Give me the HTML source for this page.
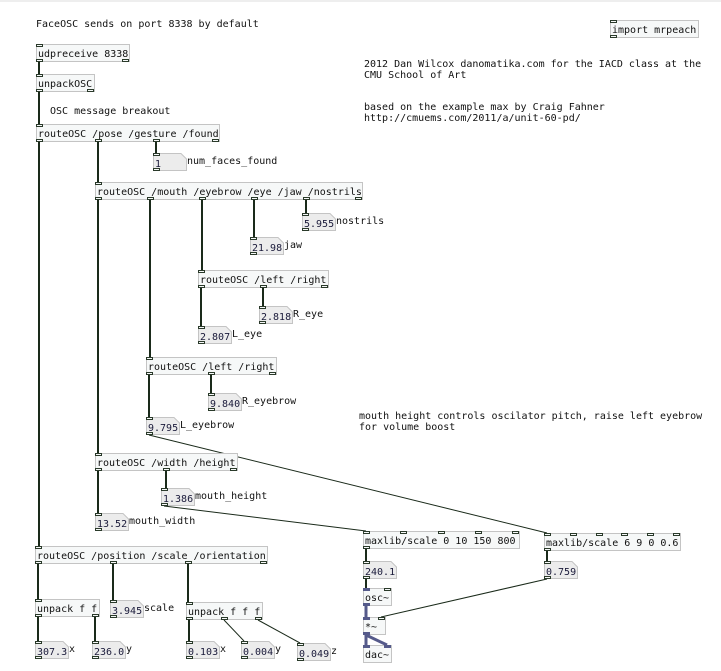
<!DOCTYPE html>
<html><head><meta charset="utf-8"><style>
html,body{margin:0;padding:0;background:#fff;width:721px;height:671px;overflow:hidden}
svg text{font-family:"DejaVu Sans Mono","Liberation Mono",monospace;font-size:10px;fill:#111}
</style></head><body>
<svg id="s" width="721" height="671" xmlns="http://www.w3.org/2000/svg">
<rect x="0" y="0" width="721" height="2" fill="#eeeeee"/>
<g id="w"></g><g id="b"></g>
<text x="36" y="27">FaceOSC sends on port 8338 by default</text>
<text x="50" y="114">OSC message breakout</text>
<text x="364" y="67">2012 Dan Wilcox danomatika.com for the IACD class at the</text>
<text x="364" y="78">CMU School of Art</text>
<text x="364" y="110">based on the example max by Craig Fahner</text>
<text x="364" y="121">http://cmuems.com/2011/a/unit-60-pd/</text>
<text x="359" y="419">mouth height controls oscilator pitch, raise left eyebrow</text>
<text x="359" y="430">for volume boost</text>
</svg>
<script>
var NS="http://www.w3.org/2000/svg";
function el(p,t,a,txt){var e=document.createElementNS(NS,t);for(var k in a)e.setAttribute(k,a[k]);if(txt!=null)e.textContent=txt;document.getElementById(p).appendChild(e);return e;}
var B={};
function obj(id,x,y,w,t,ni,no,sig){B[id]={x:x,y:y,w:w,h:17,ni:ni,no:no,sig:sig||[]};
 el("b","rect",{x:x+.5,y:y+.5,width:w,height:17,fill:"#f6f8f8",stroke:"#c4c4c4"});
 el("b","text",{x:x+2,y:y+13},t);}
function num(id,x,y,t,lab){var w=33;B[id]={x:x,y:y,w:w,h:17,ni:1,no:1,sig:[]};
 el("b","polygon",{points:(x+.5)+","+(y+.5)+" "+(x+w-5)+","+(y+.5)+" "+(x+w+.5)+","+(y+6)+" "+(x+w+.5)+","+(y+17.5)+" "+(x+.5)+","+(y+17.5),fill:"#ececec",stroke:"#c4c4c4"});
 el("b","text",{x:x+2,y:y+14,style:"fill:#1a1a3a"},t);
 if(lab)el("b","text",{x:x+w+1,y:y+11},lab);}
function px(b,i,n){return Math.round(n<2?b.x:b.x+i*(b.w-7)/(n-1));}
obj("udp",36,44,93,"udpreceive 8338",1,2);
obj("unp",36,74,58,"unpackOSC",1,2);
obj("rp",36,124,183,"routeOSC /pose /gesture /found",1,4);
num("n1",153,153,"1","num_faces_found");
obj("rm",95,182,267,"routeOSC /mouth /eyebrow /eye /jaw /nostrils",1,6);
num("nos",302,213,"5.955","nostrils");
num("jaw",250,237,"21.98","jaw");
obj("re",198,270,130,"routeOSC /left /right",1,3);
num("reye",259,306,"2.818","R_eye");
num("leye",198,326,"2.807","L_eye");
obj("rb",146,357,130,"routeOSC /left /right",1,3);
num("rbr",208,393,"9.840","R_eyebrow");
num("lbr",146,417,"9.795","L_eyebrow");
obj("rw",95,453,142,"routeOSC /width /height",1,3);
num("mh",161,488,"1.386","mouth_height");
num("mw",95,513,"13.52","mouth_width");
obj("rpos",35,546,232,"routeOSC /position /scale /orientation",1,4);
obj("u2",35,599,64,"unpack f f",1,2);
num("sc",110,600,"3.945","scale");
obj("u3",186,602,76,"unpack f f f",1,3);
num("px",35,641,"307.3","x");
num("py",92,641,"236.0","y");
num("ox",186,641,"0.103","x");
num("oy",241,641,"0.004","y");
num("oz",297,643,"0.049","z");
obj("m1",363,531,156,"maxlib/scale 0 10 150 800",5,1);
num("f1",363,561,"240.1","");
obj("osc",363,588,28,"osc~",2,1,["i0","o0"]);
obj("mul",363,617,22,"*~",2,1,["i0","o0"]);
obj("dac",363,645,28,"dac~",2,0,["i0","i1"]);
obj("m2",544,533,136,"maxlib/scale 6 9 0 0.6",6,1);
num("f2",544,561,"0.759","");
obj("imp",610,20,88,"import mrpeach",1,1);
for(var k in B){var b=B[k];
 for(var i=0;i<b.ni;i++){var s=b.sig.indexOf("i"+i)>=0;el("b","rect",{x:px(b,i,b.ni)+.5,y:b.y+.5,width:6,height:2,fill:s?"#555a8a":"#f6f8f8",stroke:s?"#555a8a":"#2a3a2a"});}
 for(var i=0;i<b.no;i++){var s=b.sig.indexOf("o"+i)>=0;el("b","rect",{x:px(b,i,b.no)+.5,y:b.y+b.h-2+.5,width:6,height:2,fill:s?"#555a8a":"#f6f8f8",stroke:s?"#555a8a":"#2a3a2a"});}
}
function c(a,o,b,i,sig){var A=B[a],Bb=B[b];var x1=px(A,o,A.no)+3,y1=A.y+A.h+1,x2=px(Bb,i,Bb.ni)+3,y2=Bb.y;
 var v=Math.abs(x1-x2)<=2; if(v&&!sig)x2=x1;
 el("w","line",{x1:x1,y1:y1,x2:x2,y2:y2,stroke:sig?"#555a8a":"#1a2a1a","stroke-width":sig?3:(v?2:1)});}
c("udp",0,"unp",0);c("unp",0,"rp",0);c("rp",0,"rpos",0);c("rp",1,"rm",0);c("rp",2,"n1",0);
c("rm",0,"rw",0);c("rm",1,"rb",0);c("rm",2,"re",0);c("rm",3,"jaw",0);c("rm",4,"nos",0);
c("re",0,"leye",0);c("re",1,"reye",0);c("rb",0,"lbr",0);c("rb",1,"rbr",0);
c("lbr",0,"m2",0);c("rw",0,"mw",0);c("rw",1,"mh",0);c("mh",0,"m1",0);
c("m1",0,"f1",0);c("f1",0,"osc",0);c("osc",0,"mul",0,1);c("f2",0,"mul",1);c("mul",0,"dac",0,1);c("mul",0,"dac",1,1);
c("m2",0,"f2",0);
c("rpos",0,"u2",0);c("rpos",1,"sc",0);c("rpos",2,"u3",0);
c("u2",0,"px",0);c("u2",1,"py",0);c("u3",0,"ox",0);c("u3",1,"oy",0);c("u3",2,"oz",0);
</script>
</body></html>
